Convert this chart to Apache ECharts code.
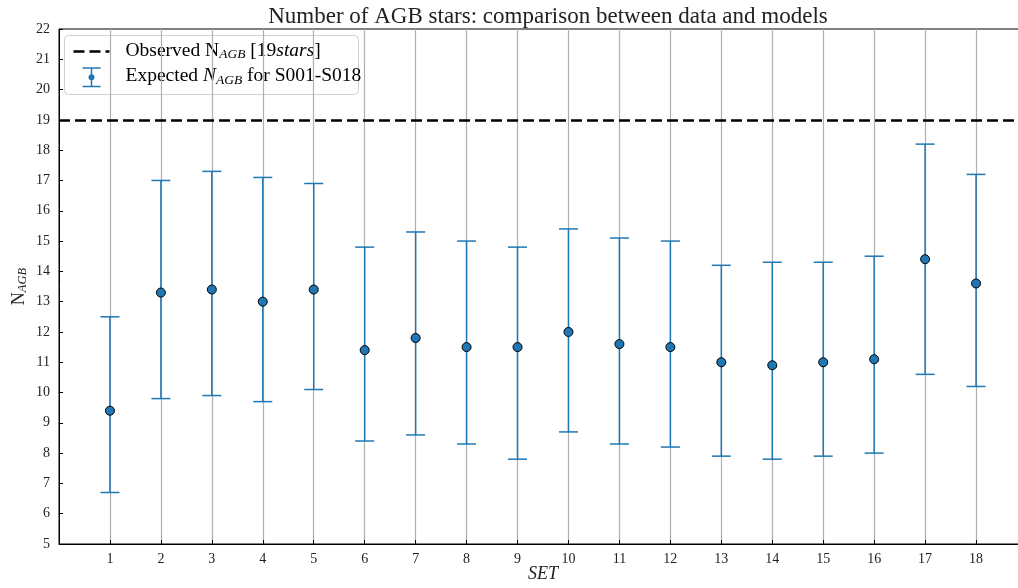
<!DOCTYPE html>
<html>
<head>
<meta charset="utf-8">
<title>Number of AGB stars</title>
<script src="https://cdn.jsdelivr.net/npm/echarts@6/dist/echarts.min.js"></script>
<style>
  html, body { margin: 0; padding: 0; background: #fff; }
  #chart { width: 1018px; height: 588px; }
</style>
</head>
<body>
<div id="chart"></div>
<script>
// Model sets S001-S018
const sets = [1, 2, 3, 4, 5, 6, 7, 8, 9, 10, 11, 12, 13, 14, 15, 16, 17, 18];
// Expected number of AGB stars per set, with asymmetric error ranges
const expected = [9.4, 13.3, 13.4, 13.0, 13.4, 11.4, 11.8, 11.5, 11.5, 12.0, 11.6, 11.5, 11.0, 10.9, 11.0, 11.1, 14.4, 13.6];
const upper    = [12.5, 17.0, 17.3, 17.1, 16.9, 14.8, 15.3, 15.0, 14.8, 15.4, 15.1, 15.0, 14.2, 14.3, 14.3, 14.5, 18.2, 17.2];
const lower    = [6.7, 9.8, 9.9, 9.7, 10.1, 8.4, 8.6, 8.3, 7.8, 8.7, 8.3, 8.2, 7.9, 7.8, 7.9, 8.0, 10.6, 10.2];
// Observed count
const observedN = 19;
// Y tick values
const yTicks = [5, 6, 7, 8, 9, 10, 11, 12, 13, 14, 15, 16, 17, 18, 19, 20, 21, 22];

const BLUE = '#1f77b4';
const SERIF = '"Liberation Serif", "DejaVu Serif", serif';

const errData = sets.map((s, i) => [s, expected[i], lower[i], upper[i]]);

function renderErrorBar(params, api) {
  const x = api.value(0);
  const pMid = api.coord([x, api.value(1)]);
  const pLo = api.coord([x, api.value(2)]);
  const pHi = api.coord([x, api.value(3)]);
  const cap = 9.5;
  const ls = { stroke: BLUE, lineWidth: 1.5 };
  return {
    type: 'group',
    children: [
      { type: 'line', shape: { x1: pLo[0], y1: pLo[1], x2: pHi[0], y2: pHi[1] }, style: ls },
      { type: 'line', shape: { x1: pHi[0] - cap, y1: pHi[1], x2: pHi[0] + cap, y2: pHi[1] }, style: ls },
      { type: 'line', shape: { x1: pLo[0] - cap, y1: pLo[1], x2: pLo[0] + cap, y2: pLo[1] }, style: ls },
      { type: 'circle', shape: { cx: pMid[0], cy: pMid[1], r: 4.5 }, style: { fill: BLUE, stroke: '#000', lineWidth: 1 }, z2: 10 }
    ]
  };
}

const chart = echarts.init(document.getElementById('chart'), null, { renderer: 'canvas' });

const mainFont = { fontFamily: SERIF, fontSize: 19.5, color: '#222', lineHeight: 22 };
const subFont = { fontFamily: SERIF, fontSize: 13.5, fontStyle: 'italic', color: '#222', lineHeight: 14, verticalAlign: 'bottom' };
const italicFont = Object.assign({}, mainFont, { fontStyle: 'italic' });

chart.setOption({
  animation: false,
  backgroundColor: '#fff',
  title: {
    text: 'Number of AGB stars: comparison between data and models',
    left: 543,
    textAlign: 'center',
    top: 0,
    textStyle: { fontFamily: SERIF, fontSize: 23, fontWeight: 'normal', color: '#222' }
  },
  grid: {
    left: 59, right: -9, top: 29, bottom: 44,
    outerBoundsMode: 'none',
    containLabel: false,
    show: true, borderColor: '#000', borderWidth: 1, backgroundColor: 'transparent'
  },
  xAxis: {
    type: 'value',
    min: 0, max: 19, interval: 1,
    name: 'SET',
    nameLocation: 'middle',
    nameGap: 21,
    nameMoveOverlap: false,
    nameTextStyle: { fontFamily: SERIF, fontSize: 18, fontStyle: 'italic', color: '#222' },
    axisLine: { show: true, lineStyle: { color: '#000', width: 1 } },
    axisTick: { show: true, inside: true, length: 4, lineStyle: { color: '#000' }, customValues: sets },
    axisLabel: { customValues: sets, margin: 8, fontFamily: SERIF, fontSize: 14, color: '#222' },
    splitLine: { show: true, lineStyle: { color: '#b0b0b0', width: 1.2 } }
  },
  yAxis: {
    type: 'value',
    min: 5, max: 22, interval: 1,
    name: '{n|N}{s|AGB}',
    nameLocation: 'middle',
    nameGap: 30,
    nameMoveOverlap: false,
    nameRotate: 90,
    nameTextStyle: {
      rich: {
        n: { fontFamily: SERIF, fontSize: 18, color: '#222', lineHeight: 20 },
        s: { fontFamily: SERIF, fontSize: 12.5, fontStyle: 'italic', color: '#222', lineHeight: 13, verticalAlign: 'bottom' }
      }
    },
    axisLine: { show: true, lineStyle: { color: '#000', width: 1 } },
    axisTick: { show: true, inside: true, length: 4, lineStyle: { color: '#000' }, customValues: yTicks },
    axisLabel: { customValues: yTicks, margin: 9, fontFamily: SERIF, fontSize: 14, color: '#222' },
    splitLine: { show: false }
  },
  series: [
    {
      type: 'line',
      data: [],
      symbol: 'none',
      markLine: {
        silent: true,
        symbol: ['none', 'none'],
        label: { show: false },
        lineStyle: { color: '#000', width: 2.5, type: [11, 5] },
        data: [{ yAxis: observedN }]
      },
      z: 3
    },
    {
      type: 'custom',
      renderItem: renderErrorBar,
      data: errData,
      clip: false,
      z: 4
    }
  ],
  graphic: [
    {
      type: 'group',
      left: 64, top: 35,
      z: 100,
      children: [
        { type: 'rect', shape: { x: 0, y: 0, width: 294, height: 59, r: 4 },
          style: { fill: 'rgba(255,255,255,0.85)', stroke: '#d0d0d0', lineWidth: 1 } },
        { type: 'line', shape: { x1: 9, y1: 16, x2: 45, y2: 16 },
          style: { stroke: '#000', lineWidth: 2.5, lineDash: [11, 5] } },
        { type: 'text', x: 61, y: 15,
          style: {
            text: '{m|Observed N}{s|AGB}{m| [19}{i|stars}{m|]}',
            verticalAlign: 'middle',
            rich: { m: mainFont, s: subFont, i: italicFont }
          } },
        { type: 'line', shape: { x1: 27, y1: 32.5, x2: 27, y2: 51 }, style: { stroke: BLUE, lineWidth: 1.5 } },
        { type: 'line', shape: { x1: 18, y1: 32.5, x2: 36, y2: 32.5 }, style: { stroke: BLUE, lineWidth: 1.5 } },
        { type: 'line', shape: { x1: 18, y1: 51, x2: 36, y2: 51 }, style: { stroke: BLUE, lineWidth: 1.5 } },
        { type: 'circle', shape: { cx: 27, cy: 41.7, r: 3 }, style: { fill: BLUE } },
        { type: 'text', x: 61, y: 40.7,
          style: {
            text: '{m|Expected }{i|N}{s|AGB}{m| for S001-S018}',
            verticalAlign: 'middle',
            rich: { m: mainFont, s: subFont, i: italicFont }
          } }
      ]
    }
  ]
});
</script>
</body>
</html>
